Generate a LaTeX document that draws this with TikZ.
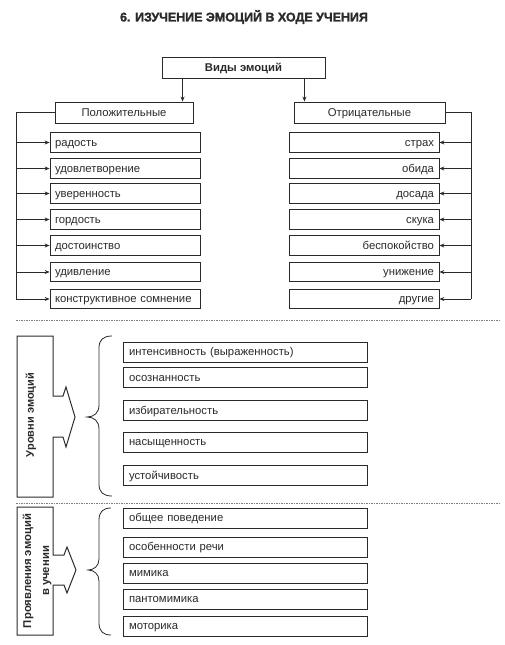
\documentclass[tikz,border=0pt]{standalone}
\usepackage{fontspec}
\setmainfont{Liberation Sans}
\newfontfamily\heavyfont{Liberation Sans Bold}[FakeBold=1.6]
\usetikzlibrary{arrows.meta}
\definecolor{ink}{HTML}{2A2A2A}
\tikzset{
  every node/.style={text=ink, font=\fontsize{11.3}{13}\selectfont},
  sbox/.style={draw=ink, line width=0.8pt, minimum height=19.5pt, inner ysep=0pt, inner xsep=5pt, text width=140pt, text height=8pt, text depth=0.5pt},
  lbox/.style={sbox, align=left},
  rbox/.style={sbox, align=right},
  mbox/.style={draw=ink, line width=0.8pt, minimum height=20pt, inner ysep=0pt, inner xsep=6pt, text width=232pt, text height=8pt, text depth=0.5pt, align=left},
  hbox/.style={draw=ink, line width=0.9pt, minimum height=21pt, inner sep=0pt, text height=8pt, text depth=0.5pt},
  conn/.style={draw=ink, line width=0.7pt},
  arr/.style={conn, -{Stealth[length=5pt,width=4pt]}},
  sep/.style={draw=gray, line width=0.8pt, dash pattern=on 1.5pt off 1pt},
  block/.style={draw=ink, line width=1pt, line join=miter},
  brc/.style={draw=ink, line width=0.8pt},
  vlabel/.style={rotate=90, font=\bfseries\fontsize{11}{12.5}\selectfont, align=center}
}
\begin{document}
\begin{tikzpicture}[x=1pt,y=-1pt]
\useasboundingbox (0,0) rectangle (504,645);
% title
\node (title) at (244,17) {\scalebox{0.99}[1]{\heavyfont\fontsize{12.6}{14}\selectfont 6. ИЗУЧЕНИЕ ЭМОЦИЙ В ХОДЕ УЧЕНИЯ}};
% top
\node[hbox, minimum width=163pt, font=\bfseries\fontsize{11.3}{13}\selectfont] (vid) at (243.5,68) {Виды эмоций};
\node[hbox, minimum width=138pt] (pos) at (124,112.5) {Положительные};
\node[hbox, minimum width=151pt] (neg) at (369.5,112.5) {Отрицательные};
\draw[arr] ([xshift=21pt]vid.south west) -- ([xshift=21pt]vid.south west |- pos.north);
\draw[arr] ([xshift=-21pt]vid.south east) -- ([xshift=-21pt]vid.south east |- neg.north);
% left column
\node[lbox] (p1) at (125,142.5) {радость};
\node[lbox] (p2) at (125,168.5) {удовлетворение};
\node[lbox] (p3) at (125,193.5) {уверенность};
\node[lbox] (p4) at (125,219.5) {гордость};
\node[lbox] (p5) at (125,245.5) {достоинство};
\node[lbox] (p6) at (125,272) {удивление};
\node[lbox] (p7) at (125,299) {конструктивное сомнение};
\coordinate (lb) at (16,299);
\draw[conn] (pos.west) -| (lb);
\foreach \i in {1,...,7} { \draw[arr] (lb |- p\i.west) -- (p\i.west); }
% right column
\node[rbox] (n1) at (364,142.5) {страх};
\node[rbox] (n2) at (364,168.5) {обида};
\node[rbox] (n3) at (364,193.5) {досада};
\node[rbox] (n4) at (364,219.5) {скука};
\node[rbox] (n5) at (364,245.5) {беспокойство};
\node[rbox] (n6) at (364,272) {унижение};
\node[rbox] (n7) at (364,299) {другие};
\coordinate (rb) at (471,299);
\draw[conn] (neg.east) -| (rb);
\foreach \i in {1,...,7} { \draw[arr] (rb |- n\i.east) -- (n\i.east); }
% separators
\coordinate (s1a) at (16,320); \coordinate (s1b) at (500,320);
\draw[sep] (s1a) -- (s1b);
\coordinate (s2a) at (16,503); \coordinate (s2b) at (500,503);
\draw[sep] (s2a) -- (s2b);
% section 2
\draw[block] (17,336) -- (53,336) -- (53,396) -- (63,396) -- (66,387) -- (75,417) -- (66,447) -- (63,437) -- (53,437) -- (53,497) -- (17,497) -- cycle;
\node[vlabel] (lvl) at (31,415) {Уровни эмоций};
\draw[brc] (112,336) .. controls (103,336) and (99,340) .. (99,348) -- (99,405) .. controls (99,413) and (94,417) .. (87,417) .. controls (94,417) and (99,421) .. (99,429) -- (99,484) .. controls (99,492) and (103,496) .. (112,496);
\node[mbox] (m1) at (245,352) {интенсивность (выраженность)};
\node[mbox] (m2) at (245,377.5) {осознанность};
\node[mbox] (m3) at (245,410.5) {избирательность};
\node[mbox] (m4) at (245,442) {насыщенность};
\node[mbox] (m5) at (245,475.5) {устойчивость};
% section 3
\draw[block] (17,507) -- (53,507) -- (53,555) -- (64,555) -- (67,547) -- (76,570) -- (67,593) -- (64,585) -- (53,585) -- (53,635) -- (17,635) -- cycle;
\node[vlabel, font=\bfseries\fontsize{11.3}{18}\selectfont] (prj) at (37,571) {Проявления эмоций\\в учении};
\draw[brc] (111,508) .. controls (103,508) and (99,512) .. (99,520) -- (99,559) .. controls (99,566) and (94,570) .. (88,570) .. controls (94,570) and (99,574) .. (99,581) -- (99,623) .. controls (99,631) and (103,635) .. (111,635);
\node[mbox] (k1) at (245,518) {общее поведение};
\node[mbox] (k2) at (245,547) {особенности речи};
\node[mbox] (k3) at (245,573) {мимика};
\node[mbox] (k4) at (245,599) {пантомимика};
\node[mbox] (k5) at (245,626) {моторика};
\end{tikzpicture}
\end{document}
